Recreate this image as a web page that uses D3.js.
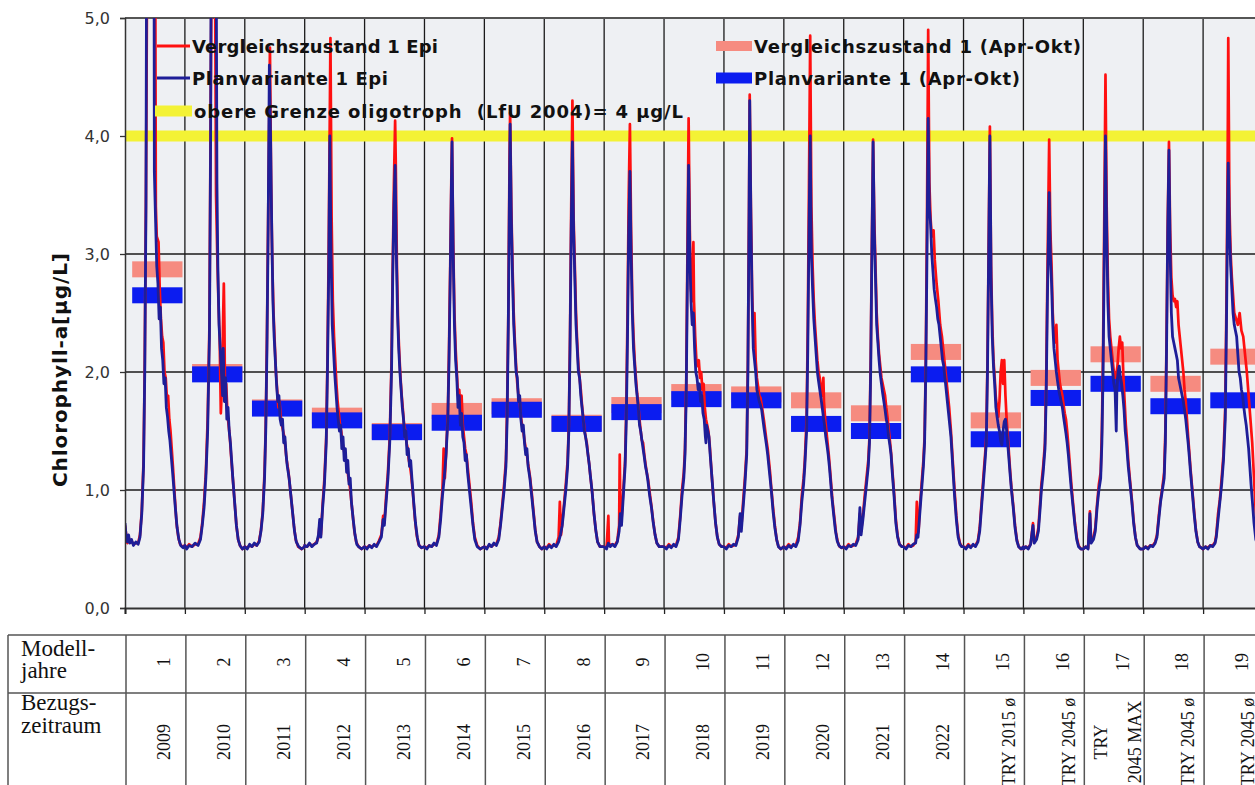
<!DOCTYPE html>
<html lang="de">
<head>
<meta charset="UTF-8">
<title>Chlorophyll-a Epilimnion</title>
<script src="https://d3js.org/d3.v7.min.js"></script>
<style>
  body { margin: 0; background: #fff; }
  svg { display: block; }
</style>
</head>
<body>
<script>
// Tabellenbeschriftung
var modellJahre = ["1","2","3","4","5","6","7","8","9","10","11","12","13","14","15","16","17","18","19"];
var bezugszeitraum = ["2009","2010","2011","2012","2013","2014","2015","2016","2017","2018","2019","2020","2021","2022",
                      "TRY 2015 ø","TRY 2045 ø","TRY\n2045 MAX","TRY 2045 ø","TRY 2045 ø"];
var yTicks = [0, 1, 2, 3, 4, 5];
var grenzeOligotroph = 4;

// Mittelwerte Apr-Okt je Modelljahr
var vzAprOkt = [2.87, 2.00, 1.70, 1.63, 1.50, 1.67, 1.71, 1.57, 1.72, 1.83, 1.81, 1.76, 1.65, 2.17, 1.59, 1.95, 2.15, 1.90, 2.13];
var pvAprOkt = [2.65, 1.98, 1.69, 1.59, 1.49, 1.57, 1.68, 1.56, 1.66, 1.77, 1.76, 1.56, 1.50, 1.98, 1.43, 1.78, 1.90, 1.71, 1.76];

// Epilimnion-Ganglinien, je Modelljahr: [Anteil des Jahres, µg/L]
var vzEpi = [
  [[0,0.7],[0.02,0.62],[0.04,0.55],[0.06,0.6],[0.08,0.56],[0.11,0.57],[0.14,0.54],[0.18,0.55],[0.22,0.55],[0.25,0.62],[0.28,0.82],[0.31,1.25],[0.33,2.1],[0.35,3.5],[0.38,6.5],[0.5,6.5],[0.515,3.4],[0.53,3.15],[0.56,3.1],[0.58,2.7],[0.6,2.45],[0.62,2.3],[0.64,2.25],[0.66,2.0],[0.68,1.95],[0.7,1.78],[0.72,1.8],[0.74,1.6],[0.76,1.5],[0.78,1.35],[0.8,1.2],[0.83,0.95],[0.86,0.72],[0.89,0.6],[0.92,0.54],[0.96,0.52],[1,0.53]],
  [[0,0.53],[0.03,0.51],[0.07,0.54],[0.12,0.52],[0.17,0.54],[0.22,0.54],[0.26,0.6],[0.29,0.72],[0.32,0.9],[0.35,1.15],[0.38,1.6],[0.41,2.4],[0.43,4.2],[0.45,5.8],[0.5,5.8],[0.52,3.5],[0.54,3.0],[0.56,2.6],[0.58,2.3],[0.6,1.65],[0.62,1.9],[0.64,2.5],[0.65,2.75],[0.66,2.4],[0.67,1.8],[0.69,1.9],[0.71,1.65],[0.73,1.55],[0.75,1.45],[0.77,1.3],[0.8,1.1],[0.83,0.9],[0.86,0.7],[0.89,0.58],[0.92,0.53],[0.96,0.5],[1,0.52]],
  [[0,0.52],[0.04,0.51],[0.08,0.53],[0.12,0.52],[0.16,0.54],[0.2,0.53],[0.24,0.57],[0.27,0.66],[0.3,0.82],[0.33,1.15],[0.35,1.55],[0.37,2.3],[0.39,3.3],[0.42,4.75],[0.44,3.6],[0.46,2.9],[0.48,2.5],[0.5,2.25],[0.52,2.0],[0.54,1.85],[0.56,1.7],[0.58,1.75],[0.6,1.62],[0.62,1.55],[0.64,1.5],[0.66,1.45],[0.68,1.35],[0.7,1.25],[0.73,1.15],[0.76,1.0],[0.79,0.85],[0.82,0.7],[0.85,0.58],[0.89,0.52],[0.95,0.5],[1,0.52]],
  [[0,0.53],[0.04,0.52],[0.08,0.54],[0.12,0.53],[0.16,0.54],[0.2,0.56],[0.23,0.6],[0.25,0.72],[0.27,0.62],[0.3,0.88],[0.33,1.1],[0.36,1.45],[0.38,2.1],[0.4,3.0],[0.43,4.83],[0.45,3.3],[0.47,2.6],[0.49,2.3],[0.51,2.1],[0.53,1.9],[0.55,1.75],[0.57,1.65],[0.59,1.55],[0.61,1.5],[0.63,1.4],[0.65,1.35],[0.67,1.3],[0.69,1.25],[0.71,1.2],[0.73,1.1],[0.75,1.05],[0.77,0.95],[0.8,0.8],[0.83,0.65],[0.86,0.56],[0.9,0.52],[0.95,0.5],[1,0.52]],
  [[0,0.52],[0.04,0.51],[0.08,0.53],[0.12,0.52],[0.16,0.53],[0.2,0.53],[0.24,0.57],[0.28,0.62],[0.31,0.78],[0.33,0.72],[0.36,0.95],[0.39,1.15],[0.42,1.45],[0.45,2.1],[0.47,2.9],[0.49,3.6],[0.51,4.13],[0.52,3.8],[0.54,2.9],[0.56,2.4],[0.58,2.15],[0.6,1.95],[0.62,1.8],[0.64,1.68],[0.66,1.55],[0.68,1.5],[0.7,1.4],[0.72,1.35],[0.74,1.25],[0.76,1.2],[0.78,1.12],[0.81,0.95],[0.84,0.76],[0.87,0.62],[0.9,0.54],[0.95,0.51],[1,0.52]],
  [[0,0.52],[0.04,0.51],[0.08,0.53],[0.12,0.52],[0.16,0.54],[0.2,0.54],[0.24,0.62],[0.27,0.8],[0.3,1.0],[0.32,1.35],[0.34,1.1],[0.36,1.3],[0.39,1.65],[0.41,2.2],[0.43,2.9],[0.45,3.7],[0.46,3.98],[0.48,3.1],[0.5,2.5],[0.52,2.2],[0.54,2.0],[0.56,1.8],[0.58,1.85],[0.6,1.7],[0.62,1.8],[0.64,1.55],[0.66,1.45],[0.68,1.35],[0.7,1.3],[0.72,1.2],[0.75,1.05],[0.78,0.9],[0.81,0.72],[0.84,0.6],[0.88,0.53],[0.93,0.5],[1,0.52]],
  [[0,0.52],[0.04,0.51],[0.08,0.53],[0.12,0.52],[0.16,0.54],[0.2,0.54],[0.24,0.6],[0.27,0.72],[0.3,0.88],[0.33,1.05],[0.36,1.25],[0.38,1.7],[0.4,2.5],[0.42,3.8],[0.43,4.2],[0.45,3.4],[0.47,2.9],[0.49,2.5],[0.51,2.25],[0.53,2.05],[0.55,1.9],[0.57,1.8],[0.59,1.75],[0.61,1.62],[0.63,1.55],[0.65,1.5],[0.67,1.42],[0.69,1.35],[0.71,1.3],[0.73,1.22],[0.76,1.12],[0.79,0.98],[0.82,0.82],[0.85,0.66],[0.88,0.56],[0.92,0.52],[0.96,0.5],[1,0.52]],
  [[0,0.52],[0.04,0.51],[0.08,0.54],[0.12,0.52],[0.16,0.53],[0.2,0.53],[0.24,0.6],[0.26,0.9],[0.28,0.62],[0.3,0.72],[0.33,0.88],[0.36,1.05],[0.39,1.25],[0.41,1.55],[0.43,2.3],[0.45,3.4],[0.47,4.3],[0.49,3.3],[0.51,2.9],[0.53,2.5],[0.55,2.25],[0.57,2.05],[0.59,1.95],[0.61,1.85],[0.63,1.72],[0.65,1.62],[0.67,1.52],[0.69,1.45],[0.71,1.4],[0.73,1.3],[0.75,1.22],[0.77,1.12],[0.8,0.98],[0.83,0.8],[0.86,0.66],[0.89,0.56],[0.93,0.52],[1,0.52]],
  [[0,0.52],[0.04,0.51],[0.07,0.78],[0.08,0.55],[0.1,0.53],[0.14,0.54],[0.18,0.53],[0.22,0.57],[0.25,0.7],[0.26,1.3],[0.27,0.85],[0.29,0.75],[0.32,1.0],[0.35,1.25],[0.37,1.7],[0.39,2.5],[0.41,3.5],[0.43,4.1],[0.45,3.2],[0.47,2.6],[0.49,2.3],[0.51,2.1],[0.53,1.95],[0.55,1.82],[0.57,1.72],[0.59,1.6],[0.61,1.5],[0.63,1.42],[0.65,1.4],[0.67,1.3],[0.69,1.22],[0.71,1.15],[0.73,1.1],[0.76,0.98],[0.79,0.86],[0.82,0.73],[0.85,0.62],[0.88,0.55],[0.92,0.52],[1,0.52]],
  [[0,0.52],[0.04,0.51],[0.08,0.54],[0.12,0.52],[0.16,0.53],[0.2,0.53],[0.24,0.6],[0.27,0.78],[0.3,1.0],[0.33,1.15],[0.35,1.35],[0.37,1.9],[0.39,3.0],[0.41,4.15],[0.43,3.2],[0.45,2.7],[0.47,2.6],[0.49,3.1],[0.5,2.6],[0.52,2.3],[0.54,2.1],[0.56,2.05],[0.58,2.1],[0.6,1.95],[0.62,2.0],[0.64,1.85],[0.66,1.9],[0.68,1.7],[0.7,1.6],[0.72,1.55],[0.74,1.5],[0.76,1.4],[0.78,1.25],[0.8,1.1],[0.83,0.9],[0.86,0.72],[0.89,0.6],[0.92,0.54],[0.96,0.52],[1,0.52]],
  [[0,0.52],[0.04,0.51],[0.08,0.54],[0.12,0.52],[0.16,0.53],[0.2,0.54],[0.24,0.62],[0.27,0.78],[0.29,0.68],[0.32,0.9],[0.35,1.1],[0.38,1.35],[0.4,2.1],[0.42,3.5],[0.43,4.35],[0.45,3.4],[0.47,2.7],[0.49,2.3],[0.51,2.5],[0.53,2.1],[0.55,1.95],[0.57,1.88],[0.59,1.8],[0.61,1.78],[0.63,1.72],[0.65,1.65],[0.67,1.58],[0.69,1.5],[0.71,1.42],[0.73,1.35],[0.75,1.25],[0.77,1.15],[0.79,1.02],[0.82,0.85],[0.85,0.7],[0.88,0.58],[0.91,0.52],[0.95,0.5],[1,0.52]],
  [[0,0.52],[0.04,0.51],[0.08,0.54],[0.12,0.52],[0.16,0.53],[0.2,0.53],[0.24,0.6],[0.27,0.72],[0.3,0.95],[0.33,1.1],[0.35,1.25],[0.38,1.6],[0.4,2.4],[0.42,3.6],[0.44,4.85],[0.46,3.4],[0.48,2.9],[0.5,2.6],[0.52,2.4],[0.54,2.25],[0.56,2.1],[0.58,2.0],[0.6,1.95],[0.62,1.85],[0.64,1.8],[0.66,1.95],[0.67,1.75],[0.69,1.6],[0.71,1.5],[0.73,1.4],[0.75,1.3],[0.77,1.18],[0.79,1.05],[0.81,0.92],[0.84,0.78],[0.87,0.64],[0.9,0.56],[0.93,0.52],[0.97,0.51],[1,0.52]],
  [[0,0.52],[0.04,0.51],[0.08,0.54],[0.12,0.52],[0.16,0.53],[0.2,0.54],[0.24,0.6],[0.27,0.8],[0.29,0.65],[0.32,0.78],[0.35,0.95],[0.38,1.1],[0.41,1.25],[0.43,1.45],[0.45,2.1],[0.47,3.1],[0.49,3.97],[0.51,3.3],[0.53,2.9],[0.55,2.5],[0.57,2.3],[0.59,2.15],[0.61,2.05],[0.63,1.95],[0.65,1.9],[0.67,1.85],[0.69,1.8],[0.71,1.7],[0.73,1.62],[0.75,1.52],[0.77,1.42],[0.79,1.32],[0.81,1.18],[0.84,0.98],[0.87,0.75],[0.9,0.61],[0.93,0.54],[0.97,0.52],[1,0.52]],
  [[0,0.52],[0.04,0.51],[0.08,0.54],[0.12,0.52],[0.16,0.53],[0.2,0.56],[0.22,0.9],[0.23,0.62],[0.25,0.65],[0.27,0.85],[0.3,1.05],[0.33,1.25],[0.35,1.45],[0.37,2.1],[0.39,3.3],[0.41,4.9],[0.43,3.6],[0.45,3.3],[0.47,3.15],[0.5,3.2],[0.52,2.95],[0.55,2.75],[0.58,2.6],[0.61,2.4],[0.64,2.3],[0.67,2.15],[0.7,2.0],[0.73,1.85],[0.76,1.7],[0.79,1.5],[0.82,1.25],[0.85,1.0],[0.88,0.78],[0.91,0.62],[0.94,0.55],[0.97,0.52],[1,0.52]],
  [[0,0.52],[0.04,0.51],[0.08,0.54],[0.12,0.52],[0.16,0.53],[0.2,0.53],[0.24,0.57],[0.27,0.68],[0.3,0.88],[0.33,1.1],[0.36,1.3],[0.38,1.45],[0.4,2.1],[0.42,3.1],[0.44,4.08],[0.46,2.9],[0.48,2.4],[0.5,2.1],[0.52,1.95],[0.54,1.78],[0.56,1.7],[0.58,1.62],[0.6,1.75],[0.62,2.0],[0.64,2.1],[0.66,1.9],[0.68,2.1],[0.7,1.8],[0.72,1.6],[0.74,1.45],[0.76,1.3],[0.78,1.15],[0.8,1.02],[0.83,0.87],[0.86,0.7],[0.89,0.58],[0.92,0.52],[0.96,0.5],[1,0.52]],
  [[0,0.5],[0.04,0.52],[0.08,0.51],[0.12,0.54],[0.16,0.72],[0.18,0.56],[0.22,0.6],[0.25,0.68],[0.28,0.9],[0.3,1.05],[0.33,1.2],[0.36,1.4],[0.38,1.9],[0.4,2.8],[0.43,3.97],[0.45,3.2],[0.47,2.9],[0.49,2.5],[0.51,2.3],[0.53,2.25],[0.55,2.4],[0.57,2.1],[0.59,2.0],[0.61,1.9],[0.63,1.85],[0.65,1.8],[0.67,1.72],[0.69,1.65],[0.71,1.6],[0.73,1.5],[0.75,1.38],[0.77,1.25],[0.8,1.05],[0.83,0.88],[0.86,0.72],[0.89,0.6],[0.92,0.53],[0.96,0.5],[1,0.5]],
  [[0,0.5],[0.04,0.52],[0.08,0.51],[0.11,0.82],[0.13,0.56],[0.17,0.6],[0.2,0.68],[0.23,0.88],[0.26,1.05],[0.29,1.15],[0.31,1.5],[0.33,2.2],[0.35,3.3],[0.37,4.52],[0.39,3.4],[0.41,2.8],[0.43,2.45],[0.45,2.3],[0.47,2.2],[0.49,2.1],[0.51,2.0],[0.53,1.95],[0.55,1.98],[0.57,2.05],[0.59,2.2],[0.61,2.3],[0.63,2.2],[0.65,2.25],[0.67,1.95],[0.69,1.75],[0.71,1.55],[0.73,1.42],[0.75,1.25],[0.78,1.08],[0.81,0.92],[0.84,0.74],[0.87,0.6],[0.9,0.53],[0.95,0.5],[1,0.5]],
  [[0,0.5],[0.04,0.52],[0.08,0.51],[0.12,0.53],[0.16,0.53],[0.2,0.56],[0.23,0.62],[0.26,0.78],[0.29,0.92],[0.32,1.02],[0.35,1.15],[0.37,1.5],[0.39,2.3],[0.41,3.3],[0.43,3.95],[0.45,3.2],[0.47,2.8],[0.49,2.65],[0.51,2.6],[0.53,2.62],[0.55,2.55],[0.57,2.6],[0.59,2.4],[0.61,2.3],[0.63,2.2],[0.65,2.1],[0.67,2.0],[0.69,1.85],[0.71,1.75],[0.73,1.6],[0.75,1.45],[0.77,1.32],[0.79,1.18],[0.82,1.0],[0.85,0.82],[0.88,0.66],[0.91,0.56],[0.94,0.52],[1,0.5]],
  [[0,0.5],[0.04,0.52],[0.08,0.51],[0.12,0.53],[0.16,0.53],[0.2,0.56],[0.22,0.62],[0.25,0.8],[0.28,0.92],[0.31,1.1],[0.34,1.3],[0.37,1.7],[0.39,2.6],[0.41,3.8],[0.42,4.83],[0.44,3.4],[0.46,3.0],[0.48,2.8],[0.5,2.65],[0.52,2.5],[0.55,2.45],[0.58,2.4],[0.61,2.5],[0.64,2.35],[0.67,2.3],[0.7,2.15],[0.73,2.0],[0.76,1.8],[0.79,1.6],[0.82,1.4],[0.85,1.1],[0.88,0.8],[0.92,0.6],[1,0.5]]
];

var pvEpi = [
  [[0,0.72],[0.02,0.6],[0.04,0.56],[0.06,0.62],[0.08,0.55],[0.11,0.58],[0.14,0.53],[0.18,0.56],[0.22,0.54],[0.25,0.6],[0.28,0.8],[0.31,1.2],[0.33,2.0],[0.35,3.4],[0.37,7.5],[0.48,7.5],[0.49,3.7],[0.51,3.3],[0.53,2.9],[0.55,2.75],[0.57,2.45],[0.59,2.55],[0.61,2.2],[0.63,2.1],[0.65,1.9],[0.67,1.95],[0.69,1.7],[0.71,1.62],[0.73,1.5],[0.75,1.42],[0.77,1.3],[0.79,1.18],[0.81,1.05],[0.84,0.85],[0.87,0.68],[0.9,0.58],[0.93,0.53],[0.97,0.51],[1,0.53]],
  [[0,0.53],[0.03,0.5],[0.07,0.53],[0.12,0.52],[0.17,0.55],[0.22,0.53],[0.26,0.58],[0.29,0.7],[0.32,0.85],[0.35,1.1],[0.38,1.5],[0.41,2.3],[0.43,4.0],[0.44,6.0],[0.52,6.0],[0.535,3.6],[0.55,2.9],[0.57,2.4],[0.59,2.2],[0.61,2.0],[0.63,1.8],[0.64,2.2],[0.66,1.75],[0.68,1.95],[0.7,1.6],[0.72,1.7],[0.74,1.5],[0.76,1.4],[0.78,1.25],[0.8,1.1],[0.83,0.9],[0.86,0.7],[0.89,0.58],[0.92,0.53],[0.96,0.5],[1,0.52]],
  [[0,0.52],[0.04,0.5],[0.08,0.54],[0.12,0.52],[0.16,0.55],[0.2,0.53],[0.24,0.56],[0.27,0.65],[0.3,0.8],[0.33,1.1],[0.35,1.5],[0.37,2.2],[0.39,3.2],[0.41,4.6],[0.43,4.0],[0.45,3.2],[0.47,2.6],[0.49,2.3],[0.51,2.1],[0.53,1.9],[0.55,1.75],[0.57,1.8],[0.59,1.6],[0.61,1.55],[0.63,1.6],[0.65,1.4],[0.67,1.45],[0.69,1.3],[0.71,1.2],[0.74,1.1],[0.77,0.95],[0.8,0.8],[0.83,0.65],[0.86,0.56],[0.9,0.52],[0.95,0.5],[1,0.52]],
  [[0,0.53],[0.04,0.52],[0.08,0.55],[0.12,0.52],[0.16,0.54],[0.2,0.55],[0.23,0.62],[0.25,0.75],[0.27,0.6],[0.3,0.85],[0.33,1.05],[0.36,1.4],[0.38,2.0],[0.4,2.8],[0.42,4.0],[0.44,3.0],[0.46,2.4],[0.48,2.2],[0.5,2.0],[0.52,1.85],[0.54,1.7],[0.56,1.6],[0.58,1.5],[0.6,1.55],[0.62,1.35],[0.64,1.45],[0.66,1.25],[0.68,1.35],[0.7,1.15],[0.72,1.25],[0.74,1.05],[0.76,1.1],[0.78,0.9],[0.81,0.75],[0.84,0.62],[0.87,0.54],[0.9,0.52],[0.95,0.5],[1,0.52]],
  [[0,0.52],[0.04,0.5],[0.08,0.53],[0.12,0.51],[0.16,0.54],[0.2,0.52],[0.24,0.56],[0.28,0.6],[0.31,0.75],[0.33,0.7],[0.36,0.9],[0.39,1.1],[0.42,1.4],[0.45,2.0],[0.47,2.8],[0.49,3.4],[0.51,3.75],[0.53,3.0],[0.55,2.5],[0.57,2.2],[0.59,2.0],[0.61,1.85],[0.63,1.7],[0.65,1.6],[0.67,1.45],[0.69,1.5],[0.71,1.3],[0.73,1.35],[0.75,1.2],[0.77,1.25],[0.79,1.1],[0.82,0.9],[0.85,0.72],[0.88,0.6],[0.91,0.53],[0.95,0.51],[1,0.52]],
  [[0,0.52],[0.04,0.5],[0.08,0.53],[0.12,0.52],[0.16,0.55],[0.2,0.53],[0.24,0.6],[0.27,0.75],[0.3,0.95],[0.33,1.1],[0.36,1.3],[0.39,1.6],[0.41,2.1],[0.43,2.8],[0.45,3.6],[0.46,3.95],[0.48,3.0],[0.5,2.4],[0.52,2.1],[0.54,1.95],[0.56,1.7],[0.58,1.8],[0.6,1.55],[0.62,1.65],[0.64,1.45],[0.66,1.4],[0.68,1.25],[0.7,1.3],[0.72,1.15],[0.75,1.0],[0.78,0.85],[0.81,0.7],[0.84,0.58],[0.88,0.52],[0.93,0.5],[1,0.52]],
  [[0,0.52],[0.04,0.5],[0.08,0.54],[0.12,0.52],[0.16,0.55],[0.2,0.53],[0.24,0.58],[0.27,0.7],[0.3,0.85],[0.33,1.0],[0.36,1.2],[0.38,1.6],[0.4,2.4],[0.42,3.6],[0.43,4.1],[0.45,3.3],[0.47,2.8],[0.49,2.4],[0.51,2.2],[0.53,2.0],[0.55,1.95],[0.57,1.75],[0.59,1.8],[0.61,1.6],[0.63,1.5],[0.65,1.55],[0.67,1.4],[0.69,1.3],[0.71,1.35],[0.73,1.2],[0.76,1.1],[0.79,0.95],[0.82,0.8],[0.85,0.65],[0.88,0.56],[0.92,0.52],[0.96,0.5],[1,0.52]],
  [[0,0.52],[0.04,0.5],[0.08,0.53],[0.12,0.51],[0.16,0.54],[0.2,0.52],[0.24,0.56],[0.27,0.62],[0.3,0.7],[0.33,0.85],[0.36,1.0],[0.39,1.2],[0.41,1.5],[0.43,2.2],[0.45,3.2],[0.47,3.95],[0.49,3.2],[0.51,2.8],[0.53,2.4],[0.55,2.2],[0.57,2.0],[0.59,1.95],[0.61,1.8],[0.63,1.7],[0.65,1.6],[0.67,1.5],[0.69,1.45],[0.71,1.38],[0.73,1.3],[0.75,1.22],[0.77,1.12],[0.8,0.98],[0.83,0.8],[0.86,0.66],[0.89,0.56],[0.93,0.52],[1,0.52]],
  [[0,0.52],[0.04,0.5],[0.07,0.55],[0.1,0.52],[0.14,0.54],[0.18,0.52],[0.22,0.56],[0.25,0.65],[0.27,0.8],[0.29,0.7],[0.32,0.95],[0.35,1.2],[0.37,1.6],[0.39,2.3],[0.41,3.2],[0.43,3.7],[0.45,3.0],[0.47,2.5],[0.49,2.2],[0.51,2.05],[0.53,1.9],[0.55,1.8],[0.57,1.7],[0.59,1.55],[0.61,1.5],[0.63,1.42],[0.65,1.35],[0.67,1.28],[0.69,1.2],[0.71,1.15],[0.73,1.08],[0.76,0.95],[0.79,0.85],[0.82,0.72],[0.85,0.62],[0.88,0.55],[0.92,0.52],[1,0.52]],
  [[0,0.52],[0.04,0.5],[0.08,0.53],[0.12,0.51],[0.16,0.54],[0.2,0.52],[0.24,0.58],[0.27,0.75],[0.3,0.95],[0.33,1.1],[0.35,1.3],[0.37,1.8],[0.39,2.8],[0.41,3.75],[0.43,3.0],[0.45,2.6],[0.47,2.4],[0.49,2.5],[0.51,2.2],[0.53,2.0],[0.55,1.95],[0.57,1.85],[0.59,1.9],[0.61,1.75],[0.63,1.8],[0.65,1.65],[0.67,1.6],[0.69,1.45],[0.7,1.4],[0.71,1.55],[0.73,1.5],[0.75,1.45],[0.77,1.3],[0.8,1.1],[0.83,0.9],[0.86,0.72],[0.89,0.6],[0.92,0.54],[0.96,0.52],[1,0.52]],
  [[0,0.52],[0.04,0.5],[0.08,0.53],[0.12,0.52],[0.16,0.54],[0.2,0.53],[0.24,0.6],[0.27,0.8],[0.29,0.65],[0.32,0.85],[0.35,1.05],[0.38,1.3],[0.4,2.0],[0.42,3.4],[0.43,4.3],[0.45,3.3],[0.47,2.6],[0.49,2.2],[0.51,2.1],[0.53,2.0],[0.55,1.85],[0.57,1.8],[0.59,1.75],[0.61,1.72],[0.63,1.68],[0.65,1.6],[0.67,1.52],[0.69,1.45],[0.71,1.38],[0.73,1.3],[0.75,1.2],[0.77,1.1],[0.79,1.0],[0.82,0.82],[0.85,0.68],[0.88,0.58],[0.91,0.52],[0.95,0.5],[1,0.52]],
  [[0,0.52],[0.04,0.5],[0.08,0.53],[0.12,0.51],[0.16,0.54],[0.2,0.52],[0.24,0.57],[0.27,0.7],[0.3,0.9],[0.33,1.05],[0.35,1.2],[0.38,1.5],[0.4,2.2],[0.42,3.2],[0.44,4.0],[0.46,3.0],[0.48,2.7],[0.5,2.45],[0.52,2.3],[0.54,2.15],[0.56,2.0],[0.58,1.92],[0.6,1.85],[0.62,1.78],[0.64,1.7],[0.66,1.62],[0.68,1.55],[0.7,1.45],[0.72,1.38],[0.74,1.3],[0.76,1.2],[0.78,1.08],[0.8,0.95],[0.83,0.8],[0.86,0.66],[0.89,0.57],[0.92,0.53],[0.96,0.51],[1,0.52]],
  [[0,0.52],[0.04,0.5],[0.08,0.53],[0.12,0.52],[0.16,0.54],[0.2,0.53],[0.24,0.58],[0.27,0.85],[0.29,0.62],[0.32,0.75],[0.35,0.9],[0.38,1.05],[0.41,1.2],[0.43,1.4],[0.45,2.0],[0.47,3.0],[0.49,3.95],[0.51,3.2],[0.53,2.8],[0.55,2.4],[0.57,2.25],[0.59,2.1],[0.61,1.98],[0.63,1.9],[0.65,1.82],[0.67,1.75],[0.69,1.68],[0.71,1.6],[0.73,1.55],[0.75,1.45],[0.77,1.38],[0.79,1.3],[0.81,1.15],[0.84,0.95],[0.87,0.72],[0.9,0.6],[0.93,0.54],[0.97,0.52],[1,0.52]],
  [[0,0.52],[0.04,0.5],[0.08,0.53],[0.12,0.52],[0.16,0.54],[0.2,0.55],[0.22,0.62],[0.24,0.6],[0.27,0.8],[0.3,1.0],[0.33,1.2],[0.35,1.4],[0.37,2.0],[0.39,3.0],[0.41,4.15],[0.43,3.4],[0.45,3.25],[0.47,3.0],[0.49,2.85],[0.51,2.7],[0.53,2.62],[0.55,2.55],[0.57,2.45],[0.59,2.4],[0.61,2.3],[0.63,2.2],[0.65,2.1],[0.67,2.05],[0.69,1.95],[0.71,1.85],[0.73,1.75],[0.75,1.65],[0.77,1.55],[0.79,1.45],[0.82,1.2],[0.85,0.95],[0.88,0.75],[0.91,0.6],[0.94,0.54],[0.97,0.52],[1,0.52]],
  [[0,0.52],[0.04,0.5],[0.08,0.53],[0.12,0.51],[0.16,0.54],[0.2,0.52],[0.24,0.56],[0.27,0.65],[0.3,0.85],[0.33,1.05],[0.36,1.25],[0.38,1.4],[0.4,2.0],[0.42,3.0],[0.44,4.0],[0.46,2.8],[0.48,2.3],[0.5,2.05],[0.52,1.9],[0.54,1.7],[0.56,1.62],[0.58,1.55],[0.6,1.5],[0.62,1.42],[0.64,1.38],[0.66,1.5],[0.68,1.58],[0.7,1.6],[0.72,1.5],[0.74,1.38],[0.76,1.25],[0.78,1.12],[0.8,1.0],[0.83,0.85],[0.86,0.68],[0.89,0.57],[0.92,0.52],[0.96,0.5],[1,0.52]],
  [[0,0.5],[0.04,0.52],[0.08,0.5],[0.12,0.54],[0.16,0.7],[0.18,0.55],[0.22,0.58],[0.25,0.65],[0.28,0.85],[0.3,1.0],[0.33,1.15],[0.36,1.35],[0.38,1.8],[0.4,2.6],[0.43,3.52],[0.45,3.0],[0.47,2.75],[0.49,2.4],[0.51,2.2],[0.53,2.1],[0.55,2.0],[0.57,1.92],[0.59,1.85],[0.61,1.8],[0.63,1.75],[0.65,1.7],[0.67,1.62],[0.69,1.55],[0.71,1.48],[0.73,1.4],[0.75,1.3],[0.77,1.18],[0.8,1.0],[0.83,0.85],[0.86,0.7],[0.89,0.58],[0.92,0.52],[0.96,0.5],[1,0.5]],
  [[0,0.5],[0.04,0.52],[0.08,0.5],[0.11,0.8],[0.13,0.55],[0.17,0.58],[0.2,0.65],[0.23,0.85],[0.26,1.0],[0.29,1.1],[0.31,1.4],[0.33,2.0],[0.35,3.0],[0.37,4.0],[0.39,3.2],[0.41,2.6],[0.43,2.3],[0.45,2.2],[0.47,2.1],[0.49,2.0],[0.51,1.9],[0.53,1.85],[0.55,1.5],[0.56,1.85],[0.58,2.0],[0.6,2.05],[0.62,1.95],[0.64,1.9],[0.66,1.8],[0.68,1.68],[0.7,1.5],[0.72,1.4],[0.75,1.2],[0.78,1.05],[0.81,0.9],[0.84,0.72],[0.87,0.6],[0.9,0.53],[0.95,0.5],[1,0.5]],
  [[0,0.5],[0.04,0.52],[0.08,0.5],[0.12,0.53],[0.16,0.52],[0.2,0.55],[0.23,0.6],[0.26,0.75],[0.29,0.9],[0.32,1.0],[0.35,1.1],[0.37,1.4],[0.39,2.2],[0.41,3.2],[0.43,3.88],[0.45,3.0],[0.47,2.5],[0.49,2.3],[0.51,2.25],[0.53,2.2],[0.55,2.15],[0.57,2.1],[0.59,1.95],[0.61,1.9],[0.63,1.85],[0.65,1.8],[0.67,1.75],[0.69,1.68],[0.71,1.6],[0.73,1.5],[0.75,1.4],[0.77,1.28],[0.79,1.15],[0.82,0.98],[0.85,0.8],[0.88,0.65],[0.91,0.56],[0.94,0.52],[1,0.5]],
  [[0,0.5],[0.04,0.52],[0.08,0.5],[0.12,0.53],[0.16,0.52],[0.2,0.55],[0.22,0.6],[0.25,0.75],[0.28,0.9],[0.31,1.05],[0.34,1.25],[0.37,1.6],[0.39,2.4],[0.41,3.4],[0.42,3.77],[0.44,3.2],[0.46,2.9],[0.48,2.7],[0.5,2.5],[0.52,2.4],[0.54,2.35],[0.56,2.3],[0.58,2.15],[0.6,2.0],[0.62,1.95],[0.64,1.85],[0.66,1.8],[0.68,1.7],[0.7,1.62],[0.72,1.55],[0.74,1.45],[0.76,1.35],[0.78,1.2],[0.8,1.05],[0.82,0.92],[0.85,0.72],[0.88,0.58],[0.92,0.52],[1,0.5]]
];

var w = 1255;
var h = 785;

var svg = d3.select("body")
            .append("svg")
            .attr("width", w)
            .attr("height", h);

var x = d3.scaleLinear().domain([0, 19]).range([125, 1263]);
var y = d3.scaleLinear().domain([0, 5]).range([608, 18]);

// plot background
svg.append("rect")
   .attr("x", x(0)).attr("y", y(5))
   .attr("width", w - x(0)).attr("height", y(0) - y(5))
   .attr("fill", "#eef0f3");

svg.append("clipPath").attr("id", "plot")
   .append("rect")
   .attr("x", x(0)).attr("y", y(5))
   .attr("width", x(19) - x(0)).attr("height", y(0) - y(5));

// grid
svg.append("g").selectAll("line")
   .data(d3.range(1, 20))
   .enter().append("line")
   .attr("x1", function(d){ return x(d); })
   .attr("x2", function(d){ return x(d); })
   .attr("y1", y(5)).attr("y2", y(0))
   .attr("stroke", "#1a1a1a").attr("stroke-width", 1.3);

svg.append("g").selectAll("line")
   .data(yTicks.slice(1))
   .enter().append("line")
   .attr("x1", x(0)).attr("x2", w)
   .attr("y1", function(d){ return y(d); })
   .attr("y2", function(d){ return y(d); })
   .attr("stroke", function(d){ return d == 5 ? "#555" : "#1a1a1a"; })
   .attr("stroke-width", function(d){ return d == 5 ? 2 : 1.3; });

// Grenze oligotroph
svg.append("line")
   .attr("x1", x(0)).attr("x2", w)
   .attr("y1", y(grenzeOligotroph)).attr("y2", y(grenzeOligotroph))
   .attr("stroke", "#f3f235").attr("stroke-width", 11);

// Apr-Okt bars
function bars(vals, color) {
    svg.append("g").selectAll("rect")
       .data(vals)
       .enter().append("rect")
       .attr("clip-path", "url(#plot)")
       .attr("x", function(d, i){ return x(i + 0.12); })
       .attr("width", function(d, i){ return x(i + 0.96) - x(i + 0.12); })
       .attr("y", function(d){ return y(d) - 8; })
       .attr("height", 16)
       .attr("fill", color);
}
bars(vzAprOkt, "#f68b80");
bars(pvAprOkt, "#0b1cf0");

// curves
function flat(series) {
    return series.flatMap(function(pts, i){
        return pts.map(function(p){ return [i + p[0], p[1]]; });
    });
}
var line = d3.line()
             .x(function(d){ return x(d[0]); })
             .y(function(d){ return y(d[1]); });

svg.append("path")
   .datum(flat(vzEpi))
   .attr("clip-path", "url(#plot)")
   .attr("d", line)
   .attr("fill", "none")
   .attr("stroke", "#ff1010")
   .attr("stroke-width", 2.7)
   .attr("stroke-linejoin", "round");

svg.append("path")
   .datum(flat(pvEpi))
   .attr("clip-path", "url(#plot)")
   .attr("d", line)
   .attr("fill", "none")
   .attr("stroke", "#1e1e98")
   .attr("stroke-width", 2.8)
   .attr("stroke-linejoin", "round");

// axes
var yAxis = d3.axisLeft(y)
              .tickValues(yTicks)
              .tickSize(5)
              .tickPadding(10)
              .tickFormat(function(d){ return d.toFixed(1).replace(".", ","); });
var gy = svg.append("g").attr("transform", "translate(" + x(0) + ",0)").call(yAxis);
gy.select(".domain").attr("stroke", "#333").attr("stroke-width", 1.5);
gy.selectAll(".tick line").attr("stroke", "#333").attr("stroke-width", 1.3);
gy.selectAll("text")
  .attr("font-family", "DejaVu Sans, Verdana, sans-serif")
  .attr("font-size", 16)
  .attr("fill", "#333");

var xAxis = d3.axisBottom(x)
              .tickValues(d3.range(0, 20))
              .tickSize(6)
              .tickFormat("");
var gx = svg.append("g").attr("transform", "translate(0," + y(0) + ")").call(xAxis);
gx.select(".domain").attr("stroke", "#333").attr("stroke-width", 2);
gx.selectAll(".tick line").attr("stroke", "#222").attr("stroke-width", 1.3);

svg.append("text")
   .attr("transform", "translate(67,370) rotate(-90)")
   .attr("text-anchor", "middle")
   .attr("font-family", "DejaVu Sans, Verdana, sans-serif")
   .attr("font-weight", "bold")
   .attr("font-size", 20)
   .attr("textLength", 234)
   .attr("lengthAdjust", "spacing")
   .attr("fill", "#111")
   .text("Chlorophyll-a[µg/L]");

// legend
var legend = [
    {x: 157, y: 46, w: 33, color: "#ff1010", sw: 3, len: 246, label: "Vergleichszustand 1 Epi"},
    {x: 157, y: 78, w: 33, color: "#1e1e98", sw: 3, len: 196, label: "Planvariante 1 Epi"},
    {x: 155, y: 111, w: 37, color: "#f3f235", sw: 11, len: 489, label: "obere Grenze oligotroph  (LfU 2004)= 4 µg/L"},
    {x: 716, y: 46, w: 36, color: "#f68b80", sw: 10, len: 327, label: "Vergleichszustand 1 (Apr-Okt)"},
    {x: 716, y: 78, w: 36, color: "#0b1cf0", sw: 11, len: 266, label: "Planvariante 1 (Apr-Okt)"}
];
var lg = svg.selectAll("g.legend")
            .data(legend)
            .enter().append("g")
            .attr("class", "legend");
lg.append("line")
  .attr("x1", function(d){ return d.x; })
  .attr("x2", function(d){ return d.x + d.w; })
  .attr("y1", function(d){ return d.y; })
  .attr("y2", function(d){ return d.y; })
  .attr("stroke", function(d){ return d.color; })
  .attr("stroke-width", function(d){ return d.sw; });
lg.append("text")
  .attr("x", function(d){ return d.x + d.w + 2; })
  .attr("y", function(d){ return d.y + 7; })
  .attr("textLength", function(d){ return d.len; })
  .attr("lengthAdjust", "spacing")
  .style("white-space", "pre")
  .attr("font-family", "DejaVu Sans, Verdana, sans-serif")
  .attr("font-weight", "bold")
  .attr("font-size", 18)
  .attr("fill", "#111")
  .text(function(d){ return d.label; });

// table
var tTop = 635, tMid = 693, tBot = 800;
var tab = svg.append("g");
[tTop, tMid].forEach(function(yy){
    tab.append("line").attr("x1", 8).attr("x2", w).attr("y1", yy).attr("y2", yy)
       .attr("stroke", "#555").attr("stroke-width", 1.5);
});
tab.selectAll("line.col")
   .data(d3.range(0, 20))
   .enter().append("line")
   .attr("class", "col")
   .attr("x1", function(d){ return x(d) + 1; })
   .attr("x2", function(d){ return x(d) + 1; })
   .attr("y1", tTop).attr("y2", tBot)
   .attr("stroke", "#555").attr("stroke-width", 1.5);
tab.append("line").attr("x1", 8).attr("x2", 8).attr("y1", tTop).attr("y2", tBot)
   .attr("stroke", "#555").attr("stroke-width", 1.5);

var serif = "Liberation Serif, Times New Roman, serif";
[["Modell-", 656], ["jahre", 678], ["Bezugs-", 710], ["zeitraum", 733]].forEach(function(r){
    tab.append("text").attr("x", 21).attr("y", r[1])
       .attr("font-family", serif).attr("font-size", 23).attr("fill", "#111")
       .text(r[0]);
});

function rotLabel(txt, cx, cy) {
    tab.append("text")
       .attr("transform", "translate(" + cx + "," + cy + ") rotate(-90)")
       .attr("text-anchor", "middle")
       .attr("dy", "0.35em")
       .attr("font-family", serif).attr("font-size", 18).attr("fill", "#111")
       .text(txt);
}
modellJahre.forEach(function(m, i){
    rotLabel(m, x(i + 0.5) + 9, 662);
});
bezugszeitraum.forEach(function(b, i){
    var lines = b.split("\n");
    var cx = x(i + 0.5);
    if (lines.length > 1) {
        lines.forEach(function(l, k){ rotLabel(l, cx - 13 + k * 34, 742); });
    } else {
        rotLabel(b, cx + (b.indexOf("TRY") == 0 ? 15 : 9), 742);
    }
});
</script>
</body>
</html>
